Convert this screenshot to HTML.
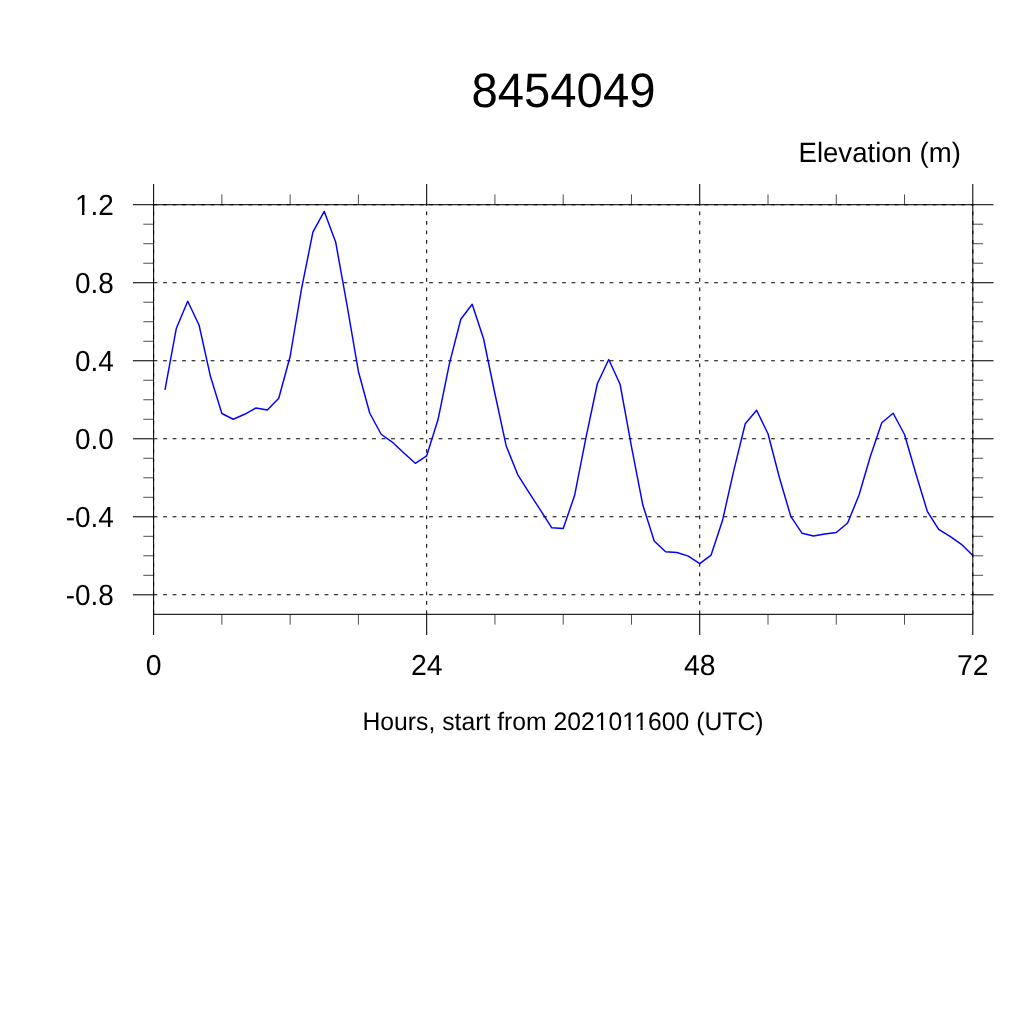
<!DOCTYPE html>
<html><head><meta charset="utf-8"><title>8454049</title>
<style>
html,body{margin:0;padding:0;background:#fff;}
body{width:1024px;height:1024px;overflow:hidden;}
svg{display:block;will-change:transform;}
text{font-family:"Liberation Sans",sans-serif;fill:#000;text-rendering:geometricPrecision;}
</style></head><body>
<svg width="1024" height="1024" viewBox="0 0 1024 1024">
<rect width="1024" height="1024" fill="#fff"/>
<g stroke="#000" stroke-width="1.05" stroke-dasharray="3.8 5.7" fill="none">
<line x1="153.60" y1="204.70" x2="972.80" y2="204.70"/>
<line x1="153.60" y1="282.72" x2="972.80" y2="282.72"/>
<line x1="153.60" y1="360.75" x2="972.80" y2="360.75"/>
<line x1="153.60" y1="438.77" x2="972.80" y2="438.77"/>
<line x1="153.60" y1="516.80" x2="972.80" y2="516.80"/>
<line x1="153.60" y1="594.82" x2="972.80" y2="594.82"/>
<line x1="153.60" y1="614.33" x2="153.60" y2="204.70"/>
<line x1="426.67" y1="614.33" x2="426.67" y2="204.70"/>
<line x1="699.73" y1="614.33" x2="699.73" y2="204.70"/>
<line x1="972.80" y1="614.33" x2="972.80" y2="204.70"/>
</g>
<polyline points="164.98,389.81 176.36,328.17 187.73,301.26 199.11,325.25 210.49,376.55 221.87,413.51 233.24,419.27 244.62,414.27 256.00,408.01 267.38,410.02 278.76,398.26 290.13,356.50 301.51,288.97 312.89,232.20 324.27,211.45 335.64,241.96 347.02,305.23 358.40,371.48 369.78,413.26 381.16,434.27 392.53,442.29 403.91,453.01 415.29,463.27 426.67,455.78 438.04,419.52 449.42,363.68 460.80,319.24 472.18,304.24 483.56,338.75 494.93,393.75 506.31,446.28 517.69,474.53 529.07,492.53 540.44,510.05 551.82,527.80 563.20,528.56 574.58,495.54 585.96,437.53 597.33,383.77 608.71,359.50 620.09,384.25 631.47,446.58 642.84,505.04 654.22,541.06 665.60,551.81 676.98,552.55 688.36,556.07 699.73,563.56 711.11,555.07 722.49,520.54 733.87,470.04 745.24,423.77 756.62,410.26 768.00,433.78 779.38,477.53 790.76,516.29 802.13,533.30 813.51,536.05 824.89,534.06 836.27,532.56 847.64,523.06 859.02,495.05 870.40,456.27 881.78,422.76 893.16,413.26 904.53,434.52 915.91,473.79 927.29,511.30 938.67,529.30 950.04,536.31 961.42,544.30 972.80,555.56" fill="none" stroke="#0000ff" stroke-width="1.45" stroke-linejoin="round" stroke-linecap="butt"/>
<g stroke="#000" stroke-width="1.05" fill="none">
<rect x="153.60" y="204.70" width="819.20" height="409.63"/>
<line x1="132.90" y1="204.70" x2="153.60" y2="204.70"/>
<line x1="972.80" y1="204.70" x2="993.50" y2="204.70"/>
<line x1="132.90" y1="282.72" x2="153.60" y2="282.72"/>
<line x1="972.80" y1="282.72" x2="993.50" y2="282.72"/>
<line x1="132.90" y1="360.75" x2="153.60" y2="360.75"/>
<line x1="972.80" y1="360.75" x2="993.50" y2="360.75"/>
<line x1="132.90" y1="438.77" x2="153.60" y2="438.77"/>
<line x1="972.80" y1="438.77" x2="993.50" y2="438.77"/>
<line x1="132.90" y1="516.80" x2="153.60" y2="516.80"/>
<line x1="972.80" y1="516.80" x2="993.50" y2="516.80"/>
<line x1="132.90" y1="594.82" x2="153.60" y2="594.82"/>
<line x1="972.80" y1="594.82" x2="993.50" y2="594.82"/>
<line x1="153.60" y1="184.00" x2="153.60" y2="204.70"/>
<line x1="153.60" y1="614.33" x2="153.60" y2="635.03"/>
<line x1="426.67" y1="184.00" x2="426.67" y2="204.70"/>
<line x1="426.67" y1="614.33" x2="426.67" y2="635.03"/>
<line x1="699.73" y1="184.00" x2="699.73" y2="204.70"/>
<line x1="699.73" y1="614.33" x2="699.73" y2="635.03"/>
<line x1="972.80" y1="184.00" x2="972.80" y2="204.70"/>
<line x1="972.80" y1="614.33" x2="972.80" y2="635.03"/>
</g>
<g stroke="#000" stroke-width="0.7" fill="none">
<line x1="143.30" y1="575.32" x2="153.60" y2="575.32"/>
<line x1="972.80" y1="575.32" x2="983.10" y2="575.32"/>
<line x1="143.30" y1="555.81" x2="153.60" y2="555.81"/>
<line x1="972.80" y1="555.81" x2="983.10" y2="555.81"/>
<line x1="143.30" y1="536.31" x2="153.60" y2="536.31"/>
<line x1="972.80" y1="536.31" x2="983.10" y2="536.31"/>
<line x1="143.30" y1="497.29" x2="153.60" y2="497.29"/>
<line x1="972.80" y1="497.29" x2="983.10" y2="497.29"/>
<line x1="143.30" y1="477.79" x2="153.60" y2="477.79"/>
<line x1="972.80" y1="477.79" x2="983.10" y2="477.79"/>
<line x1="143.30" y1="458.28" x2="153.60" y2="458.28"/>
<line x1="972.80" y1="458.28" x2="983.10" y2="458.28"/>
<line x1="143.30" y1="419.27" x2="153.60" y2="419.27"/>
<line x1="972.80" y1="419.27" x2="983.10" y2="419.27"/>
<line x1="143.30" y1="399.76" x2="153.60" y2="399.76"/>
<line x1="972.80" y1="399.76" x2="983.10" y2="399.76"/>
<line x1="143.30" y1="380.26" x2="153.60" y2="380.26"/>
<line x1="972.80" y1="380.26" x2="983.10" y2="380.26"/>
<line x1="143.30" y1="341.24" x2="153.60" y2="341.24"/>
<line x1="972.80" y1="341.24" x2="983.10" y2="341.24"/>
<line x1="143.30" y1="321.74" x2="153.60" y2="321.74"/>
<line x1="972.80" y1="321.74" x2="983.10" y2="321.74"/>
<line x1="143.30" y1="302.23" x2="153.60" y2="302.23"/>
<line x1="972.80" y1="302.23" x2="983.10" y2="302.23"/>
<line x1="143.30" y1="263.22" x2="153.60" y2="263.22"/>
<line x1="972.80" y1="263.22" x2="983.10" y2="263.22"/>
<line x1="143.30" y1="243.71" x2="153.60" y2="243.71"/>
<line x1="972.80" y1="243.71" x2="983.10" y2="243.71"/>
<line x1="143.30" y1="224.21" x2="153.60" y2="224.21"/>
<line x1="972.80" y1="224.21" x2="983.10" y2="224.21"/>
<line x1="221.87" y1="194.40" x2="221.87" y2="204.70"/>
<line x1="221.87" y1="614.33" x2="221.87" y2="624.63"/>
<line x1="290.13" y1="194.40" x2="290.13" y2="204.70"/>
<line x1="290.13" y1="614.33" x2="290.13" y2="624.63"/>
<line x1="358.40" y1="194.40" x2="358.40" y2="204.70"/>
<line x1="358.40" y1="614.33" x2="358.40" y2="624.63"/>
<line x1="494.93" y1="194.40" x2="494.93" y2="204.70"/>
<line x1="494.93" y1="614.33" x2="494.93" y2="624.63"/>
<line x1="563.20" y1="194.40" x2="563.20" y2="204.70"/>
<line x1="563.20" y1="614.33" x2="563.20" y2="624.63"/>
<line x1="631.47" y1="194.40" x2="631.47" y2="204.70"/>
<line x1="631.47" y1="614.33" x2="631.47" y2="624.63"/>
<line x1="768.00" y1="194.40" x2="768.00" y2="204.70"/>
<line x1="768.00" y1="614.33" x2="768.00" y2="624.63"/>
<line x1="836.27" y1="194.40" x2="836.27" y2="204.70"/>
<line x1="836.27" y1="614.33" x2="836.27" y2="624.63"/>
<line x1="904.53" y1="194.40" x2="904.53" y2="204.70"/>
<line x1="904.53" y1="614.33" x2="904.53" y2="624.63"/>
</g>
<text transform="translate(563.45,107.00) scale(0.977,1)" font-size="48.4" text-anchor="middle">8454049</text>
<text transform="translate(960.85,162.00) scale(0.984,1)" font-size="28.0" text-anchor="end">Elevation (m)</text>
<text transform="translate(113.80,214.60) scale(0.957,1)" font-size="29.2" text-anchor="end">1.2</text>
<text transform="translate(113.80,292.62) scale(0.957,1)" font-size="29.2" text-anchor="end">0.8</text>
<text transform="translate(113.80,370.65) scale(0.957,1)" font-size="29.2" text-anchor="end">0.4</text>
<text transform="translate(113.80,448.67) scale(0.957,1)" font-size="29.2" text-anchor="end">0.0</text>
<text transform="translate(113.80,526.70) scale(0.957,1)" font-size="29.2" text-anchor="end">-0.4</text>
<text transform="translate(113.80,604.72) scale(0.957,1)" font-size="29.2" text-anchor="end">-0.8</text>
<text transform="translate(153.60,675.30) scale(0.982,1)" font-size="28.9" text-anchor="middle">0</text>
<text transform="translate(426.67,675.30) scale(0.982,1)" font-size="28.9" text-anchor="middle">24</text>
<text transform="translate(699.73,675.30) scale(0.982,1)" font-size="28.9" text-anchor="middle">48</text>
<text transform="translate(972.80,675.30) scale(0.982,1)" font-size="28.9" text-anchor="middle">72</text>
<text transform="translate(563.00,730.00) scale(0.978,1)" font-size="25.3" text-anchor="middle">Hours, start from 2021011600 (UTC)</text>
<g fill="#fff" stroke="none">
<rect x="76.30" y="211.92" width="5.70" height="3.78"/>
<rect x="84.46" y="211.92" width="5.48" height="3.78"/>
<rect x="595.92" y="727.21" width="5.14" height="3.49"/>
<rect x="603.24" y="727.21" width="4.94" height="3.49"/>
<rect x="623.44" y="727.21" width="5.14" height="3.49"/>
<rect x="630.76" y="727.21" width="4.94" height="3.49"/>
<rect x="635.36" y="727.21" width="5.14" height="3.49"/>
<rect x="642.68" y="727.21" width="4.94" height="3.49"/>
</g>
</svg>
</body></html>
